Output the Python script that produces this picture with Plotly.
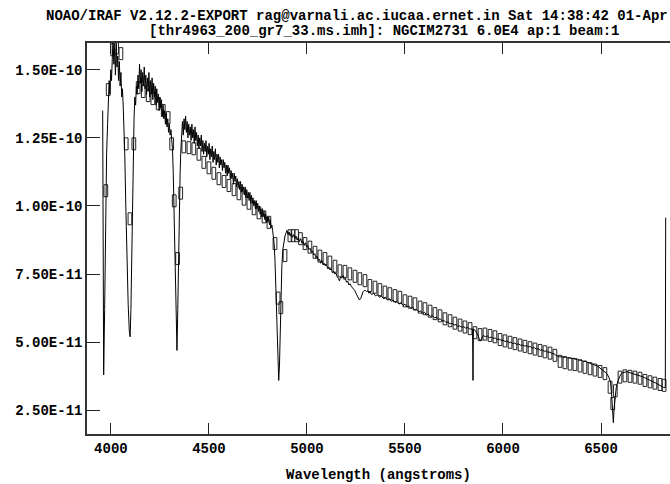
import plotly.graph_objects as go

# ---------------- data ----------------
title_line1 = "NOAO/IRAF V2.12.2-EXPORT rag@varnali.ac.iucaa.ernet.in Sat 14:38:42 01-Apr"
title_line2 = "[thr4963_200_gr7_33.ms.imh]: NGCIM2731 6.0E4 ap:1 beam:1"
x_title = "Wavelength (angstroms)"

x_tickvals = [4000, 4500, 5000, 5500, 6000, 6500]
y_tickvals = [2.5e-11, 5.0e-11, 7.5e-11, 1.0e-10, 1.25e-10, 1.5e-10]
y_ticktext = ["2.50E-11", "5.00E-11", "7.50E-11", "1.00E-10", "1.25E-10", "1.50E-10"]

# spectrum: wavelength (A) and flux (units of 1e-10)
spec_wl = [
    3958, 3963, 3968, 3973, 3978, 3983, 3987, 3991, 3995, 3999, 4003, 4007, 4011, 4015, 4019, 4023,
    4027, 4031, 4035, 4039, 4043, 4047, 4051, 4055, 4059, 4063, 4067, 4071, 4076, 4082, 4088, 4094,
    4098, 4102, 4106, 4110, 4114, 4118, 4122, 4126, 4130, 4134, 4138, 4142, 4146, 4150, 4154, 4158,
    4162, 4166, 4170, 4174, 4178, 4182, 4186, 4190, 4194, 4198, 4202, 4206, 4210, 4214, 4218, 4222,
    4226, 4230, 4234, 4238, 4242, 4246, 4250, 4254, 4258, 4262, 4266, 4270, 4274, 4278, 4282, 4286,
    4290, 4294, 4298, 4302, 4306, 4310, 4314, 4318, 4322, 4326, 4330, 4334, 4337, 4341, 4345, 4349,
    4353, 4357, 4361, 4365, 4369, 4373, 4377, 4381, 4385, 4389, 4393, 4397, 4401, 4405, 4409, 4413,
    4417, 4421, 4425, 4429, 4433, 4437, 4441, 4445, 4449, 4453, 4457, 4461, 4465, 4469, 4473, 4477,
    4481, 4485, 4489, 4493, 4497, 4501, 4505, 4509, 4513, 4517, 4521, 4525, 4529, 4533, 4537, 4541,
    4545, 4549, 4553, 4557, 4561, 4565, 4569, 4573, 4577, 4581, 4585, 4589, 4593, 4597, 4601, 4605,
    4609, 4613, 4617, 4621, 4625, 4629, 4633, 4637, 4641, 4645, 4649, 4653, 4657, 4661, 4665, 4669,
    4673, 4677, 4681, 4685, 4689, 4693, 4697, 4701, 4705, 4709, 4713, 4717, 4721, 4725, 4729, 4733,
    4737, 4741, 4745, 4749, 4753, 4757, 4761, 4765, 4769, 4773, 4777, 4781, 4785, 4789, 4793, 4797,
    4801, 4805, 4809, 4813, 4817, 4821, 4825, 4829, 4833, 4837, 4842, 4847, 4852, 4856, 4860, 4864,
    4868, 4872, 4877, 4882, 4888, 4893, 4898, 4904, 4909, 4914, 4920, 4926, 4932, 4938, 4944, 4950,
    4956, 4962, 4968, 4974, 4980, 4986, 4992, 4998, 5004, 5010, 5016, 5022, 5028, 5034, 5040, 5046,
    5052, 5058, 5064, 5070, 5076, 5082, 5088, 5094, 5100, 5106, 5112, 5118, 5124, 5130, 5136, 5142,
    5148, 5154, 5160, 5166, 5172, 5178, 5184, 5190, 5196, 5202, 5208, 5214, 5220, 5226, 5232, 5238,
    5244, 5250, 5256, 5262, 5268, 5274, 5280, 5286, 5292, 5298, 5304, 5310, 5316, 5322, 5330, 5340,
    5350, 5360, 5370, 5380, 5390, 5400, 5410, 5420, 5430, 5440, 5450, 5460, 5470, 5480, 5490, 5500,
    5510, 5520, 5530, 5540, 5550, 5560, 5570, 5580, 5590, 5600, 5610, 5620, 5630, 5640, 5650, 5660,
    5670, 5680, 5690, 5700, 5710, 5720, 5730, 5740, 5750, 5760, 5770, 5780, 5790, 5800, 5810, 5820,
    5830, 5840, 5845, 5847, 5849, 5855, 5862, 5870, 5878, 5885, 5892, 5900, 5910, 5920, 5930, 5940,
    5950, 5960, 5970, 5980, 5990, 6000, 6010, 6020, 6030, 6040, 6050, 6060, 6070, 6080, 6090, 6100,
    6110, 6120, 6130, 6140, 6150, 6160, 6170, 6180, 6190, 6200, 6210, 6220, 6230, 6240, 6250, 6260,
    6270, 6280, 6290, 6300, 6310, 6320, 6330, 6340, 6350, 6360, 6370, 6380, 6390, 6400, 6410, 6420,
    6430, 6440, 6450, 6460, 6470, 6480, 6490, 6500, 6510, 6520, 6530, 6540, 6548, 6554, 6559, 6563,
    6567, 6572, 6578, 6585, 6592, 6600, 6610, 6620, 6630, 6640, 6650, 6660, 6670, 6680, 6690, 6700,
    6710, 6720, 6730, 6740, 6750, 6760, 6770, 6780, 6790, 6800, 6810, 6820, 6828, 6830,
]
spec_flux = [
    1.35, 0.38, 0.62, 0.95, 1.19, 1.30, 1.42, 1.46, 1.41, 1.50, 1.46, 1.56, 1.62, 1.52, 1.58, 1.48,
    1.60, 1.51, 1.55, 1.46, 1.53, 1.44, 1.49, 1.40, 1.43, 1.36, 1.28, 1.18, 1.00, 0.80, 0.64, 0.54,
    0.52, 0.62, 0.85, 1.08, 1.24, 1.32, 1.40, 1.37, 1.44, 1.41, 1.48, 1.43, 1.52, 1.45, 1.50, 1.42,
    1.49, 1.44, 1.51, 1.43, 1.48, 1.41, 1.47, 1.42, 1.49, 1.40, 1.46, 1.41, 1.47, 1.39, 1.45, 1.40,
    1.44, 1.37, 1.43, 1.38, 1.41, 1.35, 1.40, 1.36, 1.39, 1.33, 1.37, 1.32, 1.35, 1.30, 1.34, 1.29,
    1.32, 1.27, 1.30, 1.26, 1.28, 1.24, 1.21, 1.12, 1.00, 0.86, 0.70, 0.55, 0.47, 0.62, 0.82, 0.98,
    1.12, 1.21, 1.27, 1.31, 1.26, 1.32, 1.28, 1.33, 1.27, 1.31, 1.25, 1.30, 1.26, 1.29, 1.24, 1.30,
    1.25, 1.28, 1.23, 1.29, 1.24, 1.27, 1.22, 1.26, 1.21, 1.25, 1.22, 1.26, 1.20, 1.24, 1.19, 1.23,
    1.20, 1.24, 1.18, 1.22, 1.19, 1.23, 1.17, 1.21, 1.18, 1.22, 1.16, 1.20, 1.17, 1.21, 1.15, 1.19,
    1.16, 1.19, 1.14, 1.18, 1.15, 1.17, 1.13, 1.17, 1.14, 1.16, 1.12, 1.15, 1.11, 1.15, 1.12, 1.14,
    1.10, 1.13, 1.10, 1.12, 1.08, 1.12, 1.09, 1.11, 1.07, 1.10, 1.07, 1.09, 1.06, 1.09, 1.05, 1.08,
    1.05, 1.07, 1.04, 1.07, 1.03, 1.06, 1.03, 1.05, 1.02, 1.05, 1.01, 1.04, 1.01, 1.03, 1.00, 1.02,
    0.99, 1.02, 0.99, 1.01, 0.98, 1.00, 0.97, 0.99, 0.96, 0.99, 0.96, 0.98, 0.95, 0.97, 0.94, 0.96,
    0.94, 0.96, 0.93, 0.95, 0.92, 0.93, 0.91, 0.89, 0.86, 0.80, 0.70, 0.58, 0.45, 0.36, 0.42, 0.55,
    0.68, 0.78, 0.84, 0.87, 0.89, 0.90, 0.91, 0.895, 0.905, 0.89, 0.90, 0.885, 0.895, 0.88, 0.89, 0.875,
    0.885, 0.87, 0.88, 0.865, 0.87, 0.855, 0.865, 0.85, 0.855, 0.84, 0.845, 0.83, 0.835, 0.82, 0.825, 0.81,
    0.815, 0.80, 0.805, 0.79, 0.80, 0.785, 0.79, 0.78, 0.785, 0.77, 0.775, 0.765, 0.77, 0.755, 0.76, 0.75,
    0.755, 0.74, 0.735, 0.725, 0.74, 0.735, 0.745, 0.73, 0.735, 0.72, 0.725, 0.71, 0.715, 0.705, 0.70, 0.695,
    0.69, 0.68, 0.67, 0.66, 0.655, 0.66, 0.675, 0.685, 0.69, 0.69, 0.685, 0.69, 0.68, 0.685, 0.675, 0.68,
    0.67, 0.675, 0.665, 0.67, 0.66, 0.665, 0.655, 0.66, 0.65, 0.655, 0.645, 0.65, 0.64, 0.645, 0.635, 0.64,
    0.63, 0.632, 0.625, 0.628, 0.618, 0.62, 0.612, 0.615, 0.605, 0.61, 0.60, 0.603, 0.595, 0.598, 0.59, 0.592,
    0.583, 0.586, 0.578, 0.58, 0.572, 0.575, 0.567, 0.57, 0.563, 0.565, 0.558, 0.56, 0.555, 0.557, 0.552, 0.554,
    0.549, 0.55, 0.548, 0.36, 0.548, 0.546, 0.54, 0.53, 0.515, 0.505, 0.515, 0.525, 0.52, 0.523, 0.517, 0.519,
    0.514, 0.516, 0.51, 0.512, 0.507, 0.508, 0.503, 0.505, 0.499, 0.50, 0.495, 0.497, 0.492, 0.494, 0.489, 0.49,
    0.486, 0.488, 0.483, 0.484, 0.479, 0.48, 0.475, 0.476, 0.471, 0.472, 0.467, 0.468, 0.463, 0.464, 0.459, 0.458,
    0.452, 0.45, 0.446, 0.447, 0.444, 0.446, 0.442, 0.444, 0.44, 0.441, 0.437, 0.438, 0.434, 0.435, 0.43, 0.431,
    0.426, 0.425, 0.42, 0.42, 0.415, 0.414, 0.408, 0.405, 0.398, 0.392, 0.385, 0.372, 0.355, 0.31, 0.25, 0.205,
    0.26, 0.31, 0.335, 0.355, 0.372, 0.382, 0.388, 0.391, 0.392, 0.39, 0.388, 0.386, 0.384, 0.382, 0.38, 0.377,
    0.374, 0.371, 0.368, 0.365, 0.362, 0.358, 0.354, 0.35, 0.346, 0.341, 0.337, 0.334, 0.333, 0.957,
]

# calibration boxes: band centre (A) and flux at box centre (units of 1e-10)
box_wl = [
    3974, 3986, 4009, 4029, 4051, 4078, 4097, 4117, 4139, 4165, 4190, 4214, 4241, 4267, 4292, 4310,
    4323, 4340, 4356, 4372, 4398, 4423, 4449, 4474, 4500, 4525, 4551, 4577, 4602, 4628, 4653, 4679,
    4704, 4730, 4755, 4781, 4806, 4837, 4853, 4867, 4888, 4913, 4929, 4947, 4967, 4990, 5015, 5041,
    5066, 5092, 5117, 5143, 5168, 5194, 5219, 5245, 5270, 5296, 5321, 5347, 5372, 5398, 5423, 5449,
    5474, 5500, 5526, 5551, 5577, 5602, 5628, 5653, 5679, 5704, 5730, 5755, 5781, 5806, 5832, 5857,
    5883, 5908, 5934, 5959, 5985, 6010, 6036, 6061, 6087, 6112, 6138, 6163, 6189, 6214, 6240, 6265,
    6291, 6316, 6342, 6367, 6393, 6418, 6444, 6469, 6495, 6520, 6546, 6560, 6573, 6597, 6622, 6648,
    6673, 6699, 6724, 6750, 6775, 6801, 6822,
]
box_flux = [
    1.056, 1.427, 1.573, 1.58, 1.559, 1.228, 0.953, 1.228, 1.434, 1.42, 1.405, 1.394, 1.375, 1.35, 1.324, 1.228,
    1.019, 0.807, 1.047, 1.217, 1.214, 1.21, 1.19, 1.16, 1.14, 1.12, 1.10, 1.09, 1.075, 1.06, 1.045, 1.025,
    1.01, 0.99, 0.975, 0.96, 0.94, 0.862, 0.662, 0.627, 0.818, 0.891, 0.891, 0.891, 0.88, 0.862, 0.849, 0.83,
    0.816, 0.807, 0.794, 0.779, 0.762, 0.76, 0.751, 0.742, 0.733, 0.726, 0.708, 0.702, 0.693, 0.684, 0.678, 0.671,
    0.665, 0.652, 0.647, 0.641, 0.629, 0.623, 0.614, 0.605, 0.597, 0.586, 0.579, 0.57, 0.563, 0.556, 0.55, 0.535,
    0.528, 0.53, 0.525, 0.52, 0.51, 0.505, 0.50, 0.495, 0.49, 0.485, 0.48, 0.475, 0.47, 0.465, 0.46, 0.452,
    0.43, 0.425, 0.42, 0.418, 0.413, 0.408, 0.403, 0.398, 0.393, 0.385, 0.335, 0.275, 0.322, 0.372, 0.377, 0.375,
    0.372, 0.368, 0.36, 0.355, 0.35, 0.345, 0.342,
]
box_height = 0.044   # flux extent of each box (1e-10)
box_band = 19        # bandpass width (A)

# ---------------- figure ----------------
scale = 1e-10
fig = go.Figure()

fig.add_trace(go.Bar(
    x=box_wl,
    y=[box_height * scale] * len(box_wl),
    base=[(f - box_height / 2) * scale for f in box_flux],
    width=[box_band] * len(box_wl),
    marker=dict(color="rgba(255,255,255,0)", line=dict(color="#222222", width=1)),
    hoverinfo="skip",
))

fig.add_trace(go.Scatter(
    x=spec_wl,
    y=[f * scale for f in spec_flux],
    mode="lines",
    line=dict(color="black", width=1),
))

tick_font = dict(family="Liberation Mono", size=14, color="black", weight="bold")

fig.update_layout(
    width=670, height=484,
    margin=dict(l=87, r=0, t=43, b=50),
    paper_bgcolor="white", plot_bgcolor="white",
    showlegend=False,
    barmode="overlay",
    xaxis=dict(
        range=[3878, 6852],
        tickvals=x_tickvals,
        ticks="inside", ticklen=11, tickwidth=1.3, tickcolor="#222",
        showline=True, linecolor="#333", linewidth=1.5, mirror="ticks",
        showgrid=False, zeroline=False,
        tickfont=tick_font,
        title=dict(text=x_title, font=tick_font, standoff=14),
    ),
    yaxis=dict(
        range=[1.634e-11, 1.598e-10],
        tickvals=y_tickvals, ticktext=y_ticktext,
        ticks="inside", ticklen=13, tickwidth=1.3, tickcolor="#222",
        showline=True, linecolor="#333", linewidth=1.5, mirror=False,
        showgrid=False, zeroline=False,
        tickfont=tick_font,
    ),
    annotations=[
        dict(text="<b>" + title_line1 + "</b>", xref="paper", yref="paper",
             x=(44 - 87) / 583, y=(434 - 16) / 391, xanchor="left", yanchor="middle",
             showarrow=False, font=dict(family="Liberation Mono", size=14, color="black")),
        dict(text="<b>" + title_line2 + "</b>", xref="paper", yref="paper",
             x=(147 - 87) / 583, y=(434 - 31) / 391, xanchor="left", yanchor="middle",
             showarrow=False, font=dict(family="Liberation Mono", size=14, color="black")),
    ],
)

fig.write_html("out.html")
